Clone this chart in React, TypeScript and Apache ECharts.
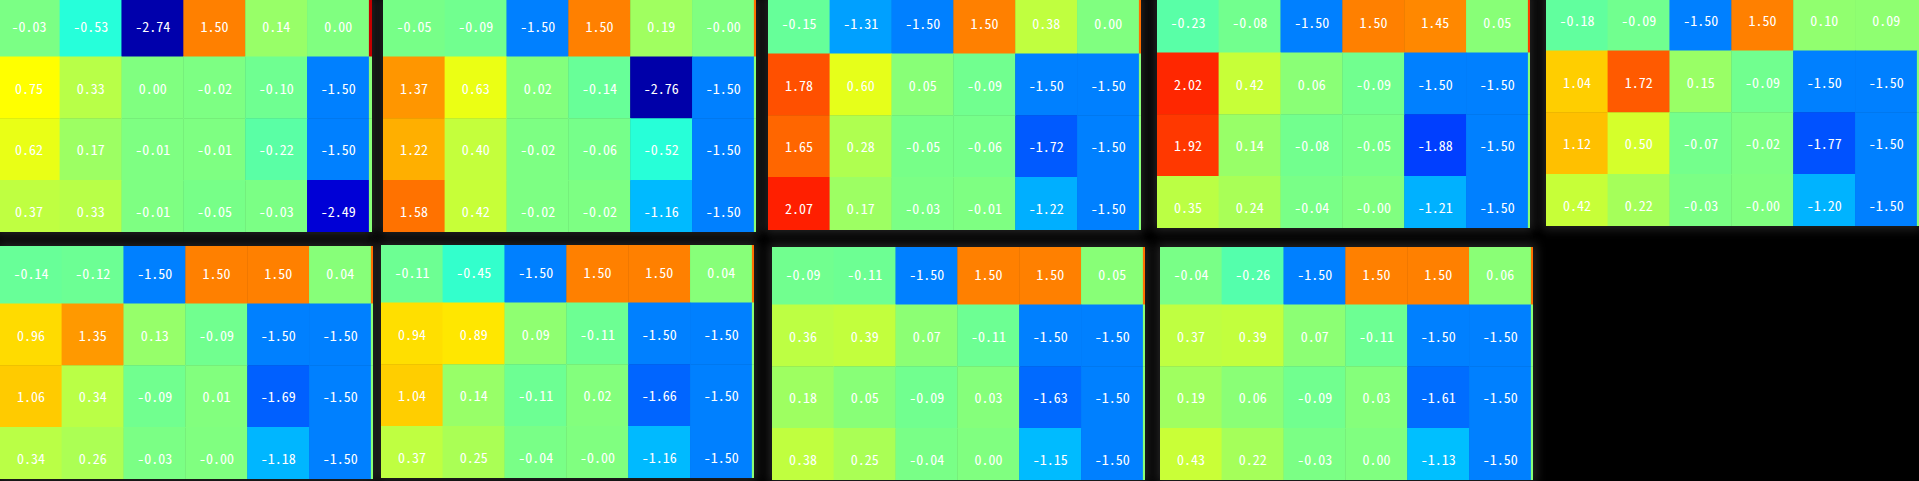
import React, { useEffect, useRef } from "react";
import * as echarts from "echarts";

// categories
const columns = ["c1", "c2", "c3", "c4", "c5", "c6", "c7"];
const rows = ["r1", "r2", "r3", "r4"];

// series values (rows top → bottom, columns left → right)
const panel1 = [
  [-0.03, -0.53, -2.74, 1.5, 0.14, 0.0],
  [0.75, 0.33, 0.0, -0.02, -0.1, -1.5],
  [0.62, 0.17, -0.01, -0.01, -0.22, -1.5],
  [0.37, 0.33, -0.01, -0.05, -0.03, -2.49],
];
const panel2 = [
  [-0.05, -0.09, -1.5, 1.5, 0.19, -0.001],
  [1.37, 0.63, 0.02, -0.14, -2.76, -1.5],
  [1.22, 0.4, -0.02, -0.06, -0.52, -1.5],
  [1.58, 0.42, -0.02, -0.02, -1.16, -1.5],
];
const panel3 = [
  [-0.15, -1.31, -1.5, 1.5, 0.38, 0.0],
  [1.78, 0.6, 0.05, -0.09, -1.5, -1.5],
  [1.65, 0.28, -0.05, -0.06, -1.72, -1.5],
  [2.07, 0.17, -0.03, -0.01, -1.22, -1.5],
];
const panel4 = [
  [-0.23, -0.08, -1.5, 1.5, 1.45, 0.05],
  [2.02, 0.42, 0.06, -0.09, -1.5, -1.5],
  [1.92, 0.14, -0.08, -0.05, -1.88, -1.5],
  [0.35, 0.24, -0.04, -0.001, -1.21, -1.5],
];
const panel5 = [
  [-0.18, -0.09, -1.5, 1.5, 0.1, 0.09],
  [1.04, 1.72, 0.15, -0.09, -1.5, -1.5],
  [1.12, 0.5, -0.07, -0.02, -1.77, -1.5],
  [0.42, 0.22, -0.03, -0.001, -1.2, -1.5],
];
const panel6 = [
  [-0.14, -0.12, -1.5, 1.5, 1.5, 0.04],
  [0.96, 1.35, 0.13, -0.09, -1.5, -1.5],
  [1.06, 0.34, -0.09, 0.01, -1.69, -1.5],
  [0.34, 0.26, -0.03, -0.001, -1.18, -1.5],
];
const panel7 = [
  [-0.11, -0.45, -1.5, 1.5, 1.5, 0.04],
  [0.94, 0.89, 0.09, -0.11, -1.5, -1.5],
  [1.04, 0.14, -0.11, 0.02, -1.66, -1.5],
  [0.37, 0.25, -0.04, -0.001, -1.16, -1.5],
];
const panel8 = [
  [-0.09, -0.11, -1.5, 1.5, 1.5, 0.05],
  [0.36, 0.39, 0.07, -0.11, -1.5, -1.5],
  [0.18, 0.05, -0.09, 0.03, -1.63, -1.5],
  [0.38, 0.25, -0.04, 0.0, -1.15, -1.5],
];
const panel9 = [
  [-0.04, -0.26, -1.5, 1.5, 1.5, 0.06],
  [0.37, 0.39, 0.07, -0.11, -1.5, -1.5],
  [0.19, 0.06, -0.09, 0.03, -1.61, -1.5],
  [0.43, 0.22, -0.03, 0.0, -1.13, -1.5],
];

// the 7th column, only a sliver of it shows at each panel's right edge
const edge1 = [2.6, 0.05, 0.05, 0.05];
const edge2 = [1.6, 0.05, 0.05, 0.05];
const edge3 = [1.6, 0.05, 0.05, 0.05];
const edge4 = [1.9, 0.05, 0.05, 0.05];
const edge5 = [0.1, 0.05, 0.05, 0.05];
const edge6 = [1.6, 0.05, 0.05, 0.05];
const edge7 = [1.6, 0.05, 0.05, 0.05];
const edge8 = [1.6, 0.05, 0.05, 0.05];
const edge9 = [1.6, 0.05, 0.05, 0.05];

const panels = [panel1, panel2, panel3, panel4, panel5, panel6, panel7, panel8, panel9];
const edges = [edge1, edge2, edge3, edge4, edge5, edge6, edge7, edge8, edge9];

const valueMin = -3;
const valueMax = 3;

// jet colour map
const jet = [
  "#000080",
  "#0000ff",
  "#0080ff",
  "#00ffff",
  "#80ff80",
  "#ffff00",
  "#ff8000",
  "#ff0000",
  "#800000",
];

const CELL = 61.8;
const BOX_W = 6 * CELL + 2.6;
const BOX_H = 232.3;
const INSET = 4.8;

// top-left of each panel's first cell
const layout = [
  { x: -1.7, y: -5.5 },
  { x: 383, y: -5.0 },
  { x: 768, y: -7.6 },
  { x: 1157, y: -9.4 },
  { x: 1545.7, y: -11 },
  { x: 0, y: 241.6 },
  { x: 381, y: 240.6 },
  { x: 772, y: 242.6 },
  { x: 1160, y: 242.6 },
];

function Panel({ values, edge, x, y }: { values: number[][]; edge: number[]; x: number; y: number }) {
  const ref = useRef<HTMLDivElement>(null);
  useEffect(() => {
    if (!ref.current) return;
    const chart = echarts.init(ref.current, undefined, { renderer: "svg" });
    const data: any[] = [];
    values.forEach((row, r) => {
      row.forEach((v, c) => data.push([c, r, v]));
      data.push([6, r, edge[r]]);
    });
    chart.setOption({
      animation: false,
      backgroundColor: "transparent",
      grid: { left: 0, right: 0, top: 0, bottom: 0 },
      xAxis: { type: "category", data: columns, show: false },
      yAxis: { type: "category", data: rows, inverse: true, show: false },
      visualMap: {
        show: false,
        min: valueMin,
        max: valueMax,
        dimension: 2,
        inRange: { color: jet },
      },
      series: [
        {
          type: "heatmap",
          data,
          itemStyle: { borderWidth: 0 },
          emphasis: { disabled: true },
          label: {
            show: true,
            color: "#ffffff",
            fontSize: 14,
            fontFamily: "'Noto Sans Mono CJK SC', 'DejaVu Sans Mono', monospace",
            formatter: (p: any) => (p.value[0] === 6 ? "" : Number(p.value[2]).toFixed(2)),
          },
        },
      ],
    });
    return () => chart.dispose();
  }, [values, edge]);
  return (
    <div
      style={{
        position: "absolute",
        left: x,
        top: y + INSET,
        width: BOX_W,
        height: BOX_H,
        overflow: "hidden",
        background: "#000",
      }}
    >
      <div
        ref={ref}
        style={{ position: "absolute", left: 0, top: -INSET, width: 7 * CELL, height: 4 * CELL }}
      />
    </div>
  );
}

export default function App() {
  return (
    <div
      style={{
        position: "fixed",
        left: 0,
        top: 0,
        width: 1919,
        height: 481,
        background: "#000",
        overflow: "hidden",
      }}
    >
      {layout.map((p, i) => (
        <div
          key={"s" + i}
          style={{
            position: "absolute",
            left: p.x,
            top: p.y + INSET,
            width: BOX_W,
            height: BOX_H,
            background: "#000",
            boxShadow: "0 0 10px 3px #262626",
          }}
        />
      ))}
      {layout.map((p, i) => (
        <Panel key={"p" + i} values={panels[i]} edge={edges[i]} x={p.x} y={p.y} />
      ))}
    </div>
  );
}
